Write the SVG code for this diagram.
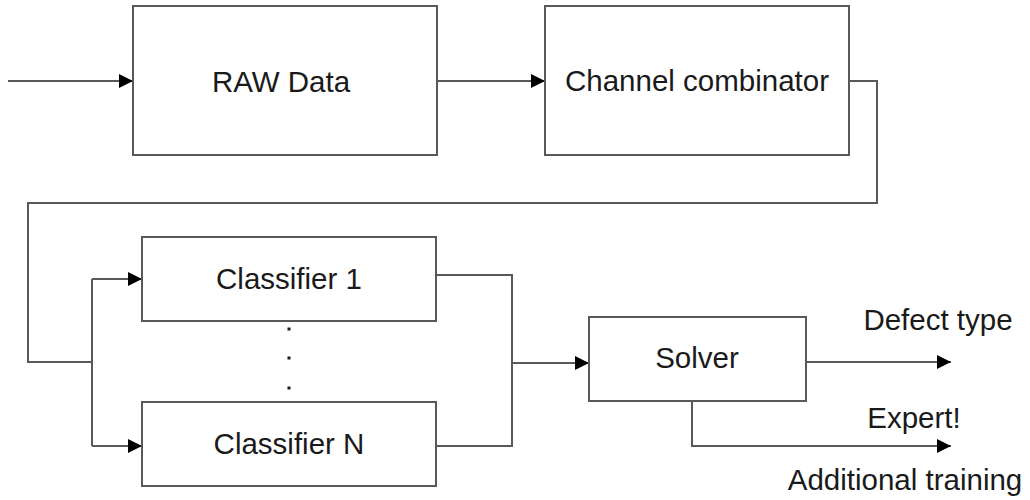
<svg xmlns="http://www.w3.org/2000/svg" width="1030" height="500" viewBox="0 0 1030 500">
  <defs>
    <marker id="arrow" markerUnits="userSpaceOnUse" markerWidth="14" markerHeight="14" refX="14" refY="7" orient="auto">
      <path d="M0,0 L14,7 L0,14 z" fill="#000"/>
    </marker>
    <style>
      .box { fill: #fff; stroke: #595959; stroke-width: 2; }
      .wire { fill: none; stroke: #595959; stroke-width: 2; }
      .lbl { font-family: "Liberation Sans", Arial, sans-serif; font-size: 29.5px; fill: #1a1a1a; text-anchor: middle; }
      .dot { fill: #1a1a1a; }
    </style>
  </defs>
  <rect width="1030" height="500" fill="#fff"/>

  <g id="connectors">
    <path class="wire" d="M8,81 H133" marker-end="url(#arrow)"/>
    <path class="wire" d="M437,81 H545" marker-end="url(#arrow)"/>
    <path class="wire" d="M849,81 H877 V203 H28 V362 H92"/>
    <path class="wire" d="M92,279 V446"/>
    <path class="wire" d="M92,279 H142" marker-end="url(#arrow)"/>
    <path class="wire" d="M92,446 H142" marker-end="url(#arrow)"/>
    <path class="wire" d="M436,275 H512 V446 H436"/>
    <path class="wire" d="M512,363 H589" marker-end="url(#arrow)"/>
    <path class="wire" d="M806,362 H951" marker-end="url(#arrow)"/>
    <path class="wire" d="M692,401 V446 H951" marker-end="url(#arrow)"/>
  </g>

  <g id="raw-data">
    <rect class="box" x="133" y="6" width="304" height="149"/>
    <text class="lbl" x="281" y="92">RAW Data</text>
  </g>

  <g id="channel-combinator">
    <rect class="box" x="545" y="6" width="304" height="149"/>
    <text class="lbl" x="697" y="91">Channel combinator</text>
  </g>

  <g id="classifier-1">
    <rect class="box" x="142" y="237" width="294" height="84"/>
    <text class="lbl" x="289" y="289">Classifier 1</text>
  </g>

  <g id="ellipsis">
    <rect class="dot" x="287.5" y="327.5" width="3" height="3"/>
    <rect class="dot" x="287.5" y="356.5" width="3" height="3"/>
    <rect class="dot" x="287.5" y="386.5" width="3" height="3"/>
  </g>

  <g id="classifier-n">
    <rect class="box" x="142" y="402" width="294" height="84"/>
    <text class="lbl" x="289" y="454">Classifier N</text>
  </g>

  <g id="solver">
    <rect class="box" x="589" y="317" width="217" height="84"/>
    <text class="lbl" x="697" y="368">Solver</text>
  </g>

  <g id="outputs">
    <text class="lbl" x="938" y="330">Defect type</text>
    <text class="lbl" x="914" y="428">Expert!</text>
    <text class="lbl" x="905" y="490">Additional training</text>
  </g>
</svg>
